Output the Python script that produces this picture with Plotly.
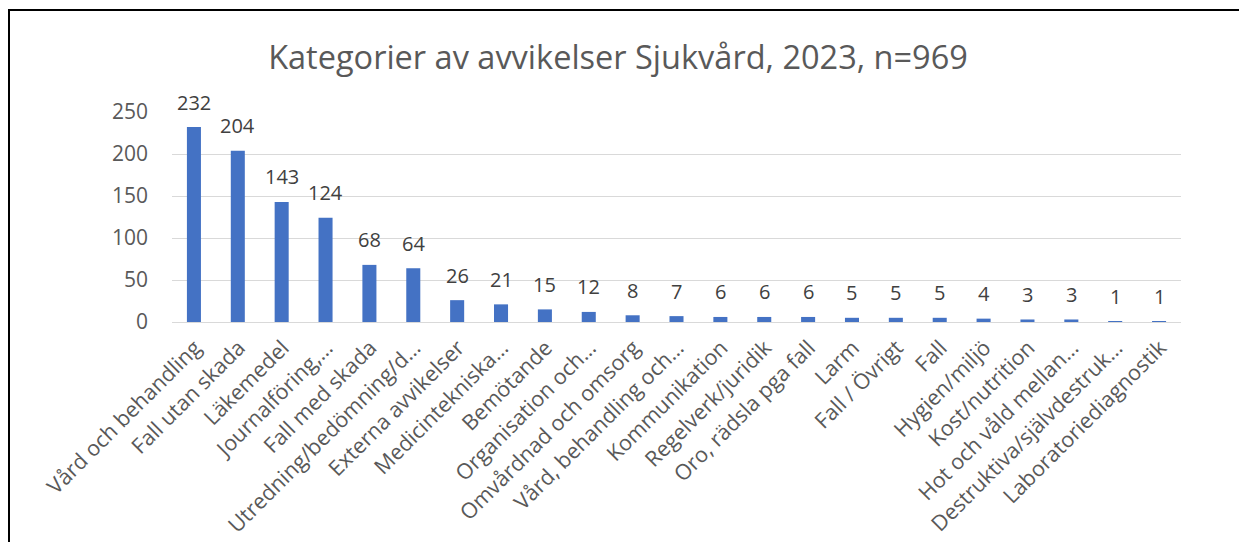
import plotly.graph_objects as go

categories = [
    "Vård och behandling", "Fall utan skada", "Läkemedel", "Journalföring,…",
    "Fall med skada", "Utredning/bedömning/d…", "Externa avvikelser",
    "Medicintekniska…", "Bemötande", "Organisation och…", "Omvårdnad och omsorg",
    "Vård, behandling och…", "Kommunikation", "Regelverk/juridik",
    "Oro, rädsla pga fall", "Larm", "Fall / Övrigt", "Fall", "Hygien/miljö",
    "Kost/nutrition", "Hot och våld mellan…", "Destruktiva/självdestruk…",
    "Laboratoriediagnostik",
]
values = [232, 204, 143, 124, 68, 64, 26, 21, 15, 12, 8, 7, 6, 6, 6, 5, 5, 5, 4, 3, 3, 1, 1]
y_ticks = [0, 50, 100, 150, 200, 250]
title_text = "Kategorier av avvikelser Sjukvård, 2023, n=969"

FONT = "Open Sans"
GREY = "#595959"

fig = go.Figure(
    go.Bar(
        x=categories,
        y=values,
        marker=dict(color="#4472C4", line=dict(width=0)),
        width=0.32,
        cliponaxis=False,
        hoverinfo="x+y",
    )
)

# data labels above bars
for c, v in zip(categories, values):
    fig.add_annotation(
        x=c, y=v, xref="x", yref="y",
        text=str(v), showarrow=False,
        yanchor="middle", yshift=25,
        font=dict(family=FONT, size=20, color="#404040"),
    )

W, H = 1239, 542
L, R, T, B = 172, 1181, 112, 322
pw, ph = R - L, B - T

def px_x(px):
    return (px - L) / pw

def px_y(py):
    return (B - py) / ph

frame = dict(color="black", width=2)

fig.update_layout(
    width=W,
    height=H,
    margin=dict(l=L, r=W - R, t=T, b=H - B, autoexpand=False),
    paper_bgcolor="white",
    plot_bgcolor="white",
    showlegend=False,
    title=dict(
        text=title_text,
        x=618 / W,
        xref="container",
        xanchor="center",
        y=1 - 58 / H,
        yref="container",
        yanchor="middle",
        font=dict(family=FONT, size=32.5, color=GREY),
    ),
    xaxis=dict(
        tickangle=-45,
        tickfont=dict(family=FONT, size=21.5, color=GREY),
        showgrid=False,
        showline=False,
        ticks="",
        automargin=False,
        ticklabelshift=1,
        ticklabelstandoff=8,
        fixedrange=True,
    ),
    yaxis=dict(
        range=[0, 250],
        tickvals=y_ticks,
        tickfont=dict(family=FONT, size=21, color=GREY),
        showgrid=True,
        gridcolor="#d9d9d9",
        gridwidth=1,
        zeroline=True,
        zerolinecolor="#d9d9d9",
        zerolinewidth=1,
        showline=False,
        ticks="",
        automargin=False,
        ticklabelstandoff=23,
    ),
    shapes=[
        dict(type="line", xref="paper", yref="paper",
             x0=px_x(8), x1=px_x(1400), y0=px_y(10), y1=px_y(10), line=frame),
        dict(type="line", xref="paper", yref="paper",
             x0=px_x(9), x1=px_x(9), y0=px_y(9), y1=px_y(700), line=frame),
    ],
)

fig.write_html(
    "out.html",
    config={"displayModeBar": False},
    post_script="document.body.style.margin='0';document.body.style.overflow='hidden';",
)
